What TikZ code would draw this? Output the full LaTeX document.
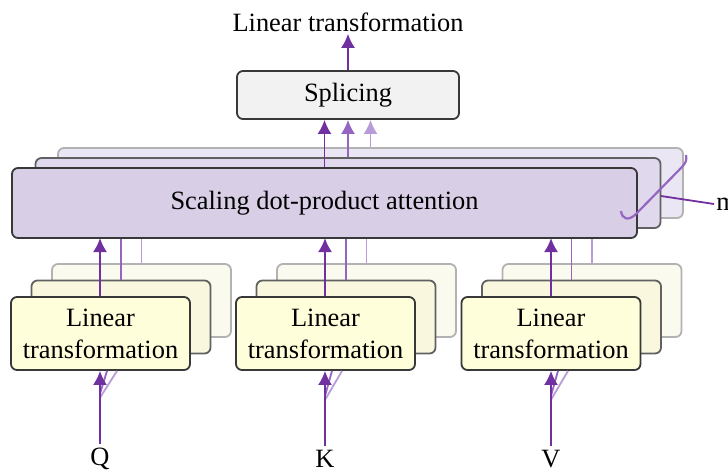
\documentclass[tikz,border=0pt]{standalone}
\usepackage{fontspec}
\setmainfont{Liberation Serif}
\newfontfamily\figfont{Liberation Serif}
\usepackage{xcolor}
\usepackage{tikz}
\usetikzlibrary{arrows.meta, calc, positioning}

\definecolor{purA}{HTML}{7030A0}
\definecolor{purB}{HTML}{9466C2}
\definecolor{purC}{HTML}{B89CD8}
\definecolor{attFront}{HTML}{D8CEE6}
\definecolor{attMid}{HTML}{E0D8EC}
\definecolor{attBack}{HTML}{EBE6F3}
\definecolor{linFront}{HTML}{FFFEDB}
\definecolor{linMid}{HTML}{F9F8DE}
\definecolor{linBack}{HTML}{FAFAEE}
\definecolor{spliceFill}{HTML}{F2F2F2}

\begin{document}
\begin{tikzpicture}[x=0.5pt, y=-0.5pt, >={Latex[length=7pt,width=7pt]},
    font=\figfont\fontsize{13.2}{16}\selectfont,
    box/.style={draw=black!78, rounded corners=3pt, line width=0.9pt, inner sep=0pt, align=center},
    boxmid/.style={box, draw=black!62},
    boxback/.style={box, draw=black!30},
    linbox/.style={minimum width=89.5pt, minimum height=36.5pt},
    attbox/.style={minimum width=312.5pt, minimum height=35pt},
    flowA/.style={purA, line width=0.9pt},
    flowB/.style={purB, line width=0.9pt},
    flowC/.style={purC, line width=0.9pt}]
    \useasboundingbox (0,0) rectangle (728,472);

    % 1. Các lớp "Linear transformation" (Q, K, V), vẽ từ sau ra trước
    \node[boxback, linbox, fill=linBack] (qlin3) at (141.5,300.5) {};
    \node[boxmid, linbox, fill=linMid] (qlin2) at (121,317) {};
    \node[box, linbox, fill=linFront] (qlin) at (100.5,333.5) {Linear\\transformation};

    \node[boxback, linbox, fill=linBack] (klin3) at (366.5,300.5) {};
    \node[boxmid, linbox, fill=linMid] (klin2) at (346,317) {};
    \node[box, linbox, fill=linFront] (klin) at (325.5,333.5) {Linear\\transformation};

    \node[boxback, linbox, fill=linBack] (vlin3) at (592,300.5) {};
    \node[boxmid, linbox, fill=linMid] (vlin2) at (571.5,317) {};
    \node[box, linbox, fill=linFront] (vlin) at (551,333.5) {Linear\\transformation};

    % 2. Các lớp "Scaling dot-product attention"
    \node[boxback, attbox, fill=attBack] (att3) at (370.5,183) {};
    \node[boxmid, attbox, fill=attMid] (att2) at (348,193) {};

    % Đường nối các lớp phía sau
    \draw[flowB] (qlin2.north) -- (qlin2.north |- att2.south);
    \draw[flowC] (qlin3.north) -- (qlin3.north |- att3.south);
    \draw[flowB] (klin2.north) -- (klin2.north |- att2.south);
    \draw[flowC] (klin3.north) -- (klin3.north |- att3.south);
    \draw[flowB] (vlin2.north) -- (vlin2.north |- att2.south);
    \draw[flowC] (vlin3.north) -- (vlin3.north |- att3.south);

    \node[box, attbox, fill=attFront] (att) at (324.5,203) {Scaling dot-product attention};

    % 3. Khối "Splicing" và tiêu đề phía trên
    \node[box, fill=spliceFill, minimum width=111pt, minimum height=24pt] (splice) at (348,95) {Splicing};
    \node[inner sep=1pt] (title) at (348,22) {Linear transformation};

    \draw[->, flowA] (splice.north) -- (title.south);
    \draw[->, flowA] (att.north) -- (att.north |- splice.south);
    \draw[->, flowB] (att2.north) -- (att2.north |- splice.south);
    \draw[->, flowC] (att3.north) -- (att3.north |- splice.south);

    % 4. Mũi tên từ Linear lên attention
    \draw[->, flowA] (qlin.north -| 100,0) -- (100,238);
    \draw[->, flowA] (klin.north -| 325,0) -- (325,238);
    \draw[->, flowA] (vlin.north -| 551,0) -- (551,238);

    % 5. Đầu vào Q, K, V
    \node[inner sep=2pt] (q) at (100,459) {Q};
    \node[inner sep=2pt] (k) at (325,459) {K};
    \node[inner sep=2pt] (v) at (551,459) {V};

    \draw[flowB] ($(q.north)+(0,-50)$) -- ($(qlin.south)+(6.5,0)$);
    \draw[flowC] ($(q.north)+(0,-46)$) -- ($(qlin.south)+(16.5,0)$);
    \draw[flowB] ($(k.north)+(0,-50)$) -- ($(klin.south)+(6.5,0)$);
    \draw[flowC] ($(k.north)+(0,-46)$) -- ($(klin.south)+(16.5,0)$);
    \draw[flowB] ($(v.north)+(0,-50)$) -- ($(vlin.south)+(7,0)$);
    \draw[flowC] ($(v.north)+(0,-46)$) -- ($(vlin.south)+(17,0)$);

    \draw[->, flowA] (q.north) -- (q.north |- qlin.south);
    \draw[->, flowA] (k.north) -- (k.north |- klin.south);
    \draw[->, flowA] (v.north) -- (v.north |- vlin.south);

    % 6. Ngoặc bên phải và nhãn m
    \draw[purB, line width=1.1pt] (621,211) .. controls (622,219) and (628,221) .. (635,215)
        -- (681,168) .. controls (686,163) and (687,160) .. (686,155);
    \coordinate (brace) at (661,196);
    \node[anchor=west, inner sep=1pt] (m) at (714,204) {m};
    \draw[flowA] (brace) -- (m.west);
\end{tikzpicture}
\end{document}
